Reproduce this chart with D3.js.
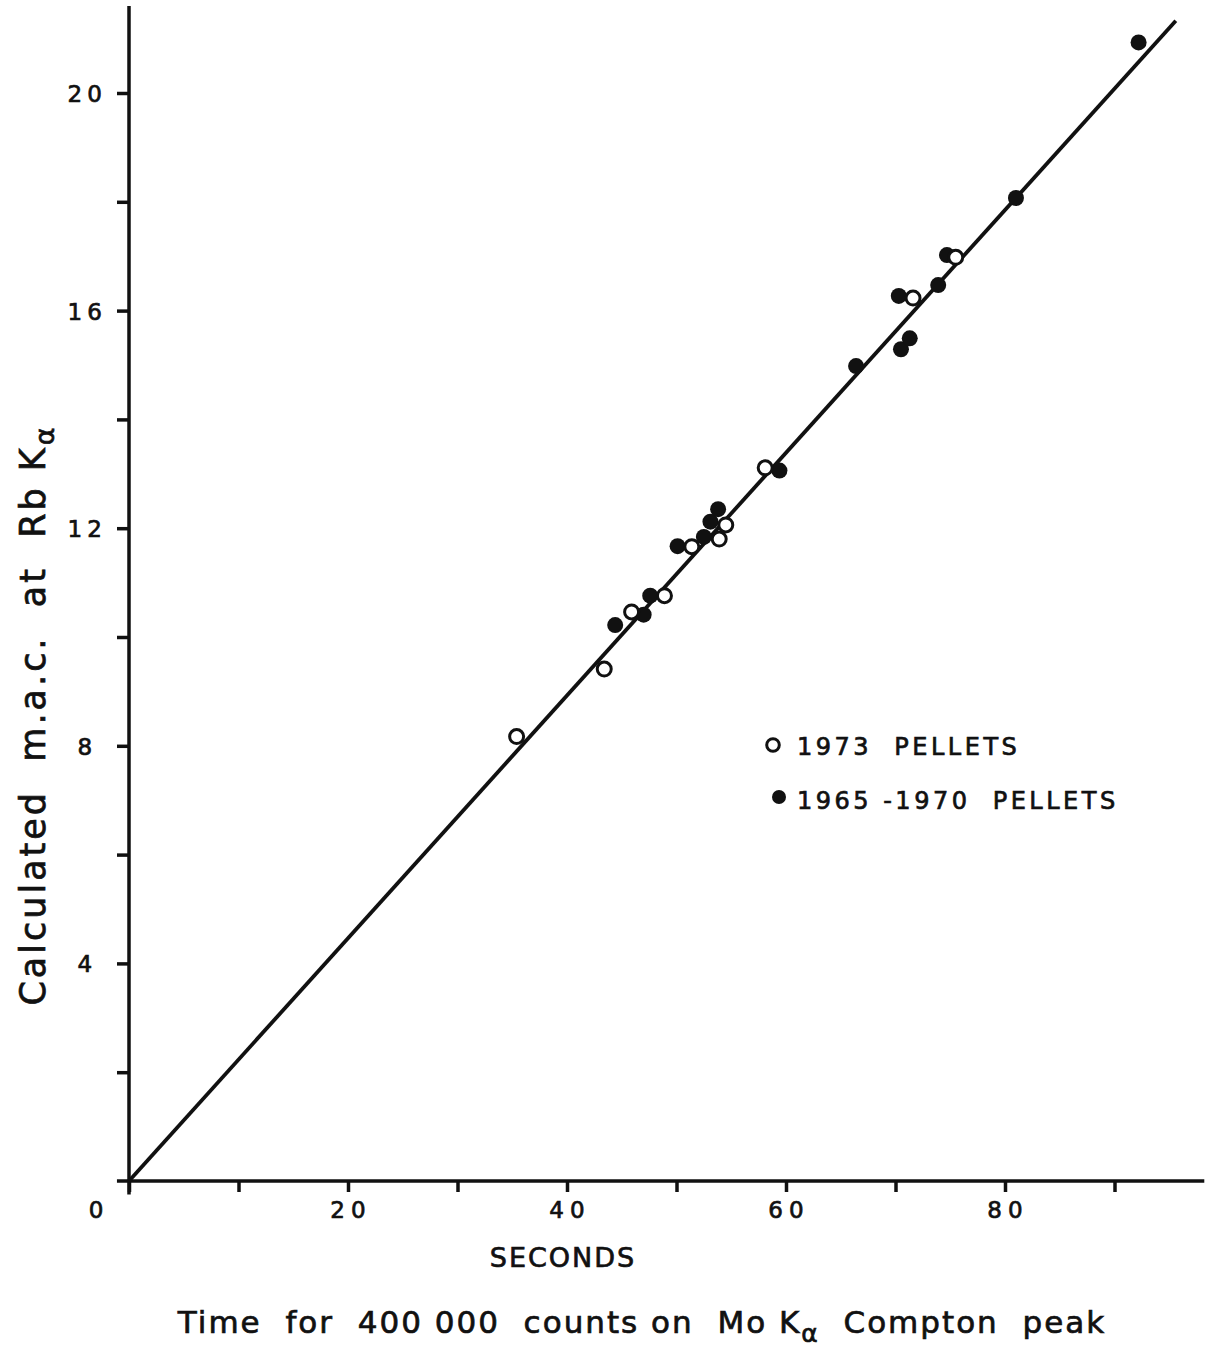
<!DOCTYPE html>
<html>
<head>
  <meta charset="utf-8">
  <title>m.a.c. vs Compton time</title>
  <script src="https://cdn.jsdelivr.net/npm/d3@7"></script>
  <style>
    body { margin: 0; background: #fff; }
    text { font-family: "DejaVu Sans", sans-serif; fill: #111; stroke: #111; stroke-width: 0.7px; white-space: pre; }
    .tick line { stroke: #111; stroke-width: 3.5; }
  </style>
</head>
<body>
<svg id="chart" width="1221" height="1349"></svg>
<script>
// 1973 pellets (open circles)
var open1973X = [35.4, 43.4, 45.9, 48.9, 51.4, 53.9, 54.5, 58.1, 71.6, 75.5];
var open1973Y = [8.17, 9.41, 10.46, 10.76, 11.66, 11.80, 12.06, 13.11, 16.23, 16.98];

// 1965-1970 pellets (filled circles)
var filled6570X = [44.4, 47.0, 47.6, 50.1, 52.5, 53.1, 53.8, 59.4, 66.4, 70.3, 70.5, 71.3, 73.9, 74.7, 81.0, 92.2];
var filled6570Y = [10.22, 10.41, 10.76, 11.67, 11.84, 12.12, 12.35, 13.06, 14.98, 16.27, 15.29, 15.49, 16.47, 17.02, 18.07, 20.93];

// fitted straight line
var fitX = [0, 95.6];
var fitY = [0, 21.33];

var xTicks = [0, 10, 20, 30, 40, 50, 60, 70, 80, 90];
var xTickLabels = [20, 40, 60, 80];
var yTicks = [2, 4, 6, 8, 10, 12, 14, 16, 18, 20];
var yTickLabels = [4, 8, 12, 16, 20];

var svg = d3.select("#chart");

var x = d3.scaleLinear().domain([0, 80]).range([129, 1005]);
var y = d3.scaleLinear().domain([0, 20]).range([1181, 93]);

// x ticks (hanging below axis)
svg.append("g")
  .attr("transform", "translate(0," + y(0) + ")")
  .call(d3.axisBottom(x).tickValues(xTicks).tickSize(11).tickFormat(""))
  .call(g => g.select(".domain").remove());

// y ticks (left of axis)
svg.append("g")
  .attr("transform", "translate(" + x(0) + ",0)")
  .call(d3.axisLeft(y).tickValues(yTicks).tickSize(12).tickFormat(""))
  .call(g => g.select(".domain").remove());

// axis lines
svg.append("line")
  .attr("x1", x(0)).attr("x2", x(0))
  .attr("y1", y(21.6)).attr("y2", y(-0.25))
  .attr("stroke", "#111").attr("stroke-width", 3.5);
svg.append("line")
  .attr("x1", x(-1.1)).attr("x2", x(98.2))
  .attr("y1", y(0)).attr("y2", y(0))
  .attr("stroke", "#111").attr("stroke-width", 3.5);

// tick labels
svg.selectAll(".xlab").data(xTickLabels).enter().append("text")
  .attr("class", "xlab")
  .attr("x", d => x(d) + 3).attr("y", y(0) + 37)
  .attr("text-anchor", "middle")
  .style("font-size", "23px").style("letter-spacing", "6px")
  .text(d => d);
svg.append("text")
  .attr("x", x(-3)).attr("y", y(0) + 37)
  .attr("text-anchor", "middle")
  .style("font-size", "23px")
  .text("0");
svg.selectAll(".ylab").data(yTickLabels).enter().append("text")
  .attr("class", "ylab")
  .attr("x", x(-4) + 2).attr("y", d => y(d) + 9)
  .attr("text-anchor", "middle")
  .style("font-size", "23px").style("letter-spacing", "5px")
  .text(d => d);

// fitted line
svg.append("path")
  .datum(d3.zip(fitX, fitY))
  .attr("d", d3.line().x(d => x(d[0])).y(d => y(d[1])))
  .attr("stroke", "#111").attr("stroke-width", 3.8).attr("fill", "none");

// filled points
svg.selectAll(".filled").data(d3.zip(filled6570X, filled6570Y)).enter().append("circle")
  .attr("class", "filled")
  .attr("cx", d => x(d[0])).attr("cy", d => y(d[1]))
  .attr("r", 8).attr("fill", "#111");

// open points
svg.selectAll(".open").data(d3.zip(open1973X, open1973Y)).enter().append("circle")
  .attr("class", "open")
  .attr("cx", d => x(d[0])).attr("cy", d => y(d[1]))
  .attr("r", 7).attr("fill", "#fff").attr("stroke", "#111").attr("stroke-width", 3);

// legend
svg.append("circle").attr("cx", 773).attr("cy", 745).attr("r", 6.3)
  .attr("fill", "#fff").attr("stroke", "#111").attr("stroke-width", 3);
svg.append("text").attr("x", 797).attr("y", 755)
  .style("font-size", "24px").style("letter-spacing", "3.5px")
  .text("1973  PELLETS");
svg.append("circle").attr("cx", 779).attr("cy", 797).attr("r", 7).attr("fill", "#111");
svg.append("text").attr("x", 797).attr("y", 809)
  .style("font-size", "24px").style("letter-spacing", "3.5px")
  .text("1965 -1970  PELLETS");

// x axis titles
svg.append("text")
  .attr("x", 563).attr("y", 1267)
  .attr("text-anchor", "middle")
  .style("font-size", "27px").style("letter-spacing", "2px")
  .text("SECONDS");

var t = svg.append("text")
  .attr("x", 642).attr("y", 1333)
  .attr("text-anchor", "middle")
  .style("font-size", "31px").style("letter-spacing", "2px");
t.append("tspan").text("Time  for  400 000  counts on  Mo K");
t.append("tspan").attr("dy", 9).style("font-size", "25px").text("α");
t.append("tspan").attr("dy", -9).text("  Compton  peak");

// y axis title
var yt = svg.append("text")
  .attr("transform", "translate(45,715) rotate(-90)")
  .attr("text-anchor", "middle")
  .style("font-size", "35px").style("letter-spacing", "3px");
yt.append("tspan").text("Calculated  m.a.c.  at  Rb K");
yt.append("tspan").attr("dy", 9).style("font-size", "27px").text("α");
</script>
</body>
</html>
